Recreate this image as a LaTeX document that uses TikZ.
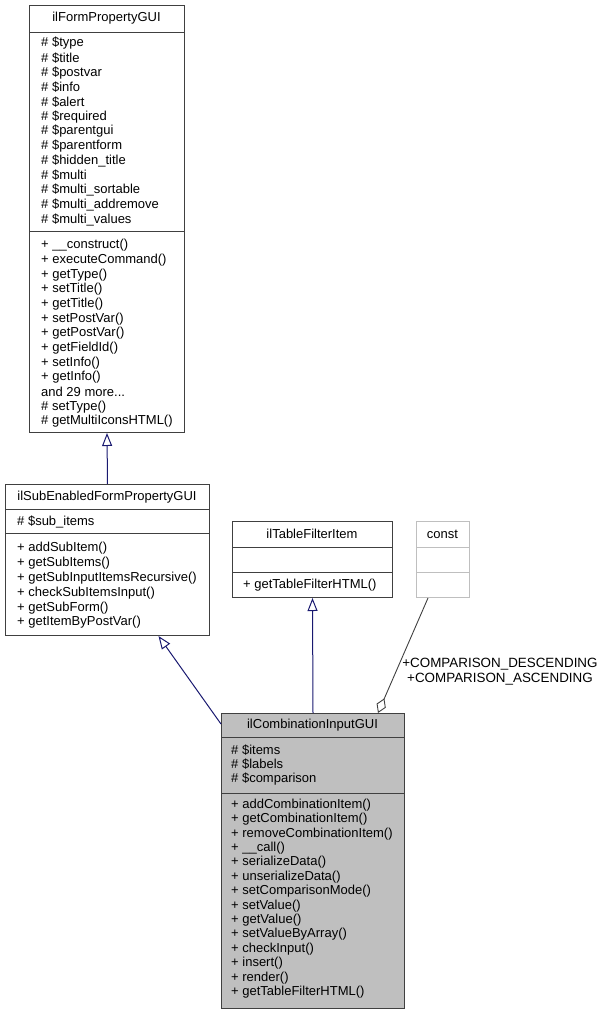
\documentclass[tikz,border=0pt]{standalone}
\usepackage{fontspec}
\setmainfont{Liberation Sans}
\usetikzlibrary{arrows.meta}
\definecolor{boxline}{RGB}{64,64,64}
\definecolor{edgeblue}{RGB}{25,25,112}
\definecolor{edgegray}{RGB}{64,64,64}
\definecolor{constgray}{RGB}{191,191,191}
\definecolor{fillgray}{RGB}{191,191,191}
\newcommand\dgfont{\fontsize{13}{15}\selectfont}
\begin{document}
\begin{tikzpicture}[x=1pt,y=-1pt,
  box/.style={draw=boxline, line width=1pt, inner sep=0pt, anchor=north west},
  txt/.style={anchor=west, inner sep=0pt, font=\dgfont},
  ttl/.style={anchor=center, inner sep=0pt, font=\dgfont},
  sep/.style={draw=boxline, line width=1pt},
  inh/.style={draw=edgeblue, line width=1pt, -{Triangle[open,length=13pt,width=10pt]}},
  agg/.style={draw=edgegray, line width=0.9pt, -{Diamond[open,length=16pt,width=10pt]}}]
\useasboundingbox (0,0) rectangle (605,1015);

% ilFormPropertyGUI
\node[box, minimum width=155pt, minimum height=427pt] (form) at (29,5) {};
\node[ttl] (formt) at (106.5,18) {ilFormPropertyGUI};
\draw[sep] (29,32) -- (184,32);
\draw[sep] (29,231) -- (184,231);
\foreach \t [count=\i from 0] in {\# \$type,\# \$title,\# \$postvar,\# \$info,\# \$alert,\# \$required,\# \$parentgui,\# \$parentform,\# \$hidden\_title,\# \$multi,\# \$multi\_sortable,\# \$multi\_addremove,\# \$multi\_values}
  \node[txt] (forma\i) at (41,43.5+\i*14.67) {\t};
\foreach \t [count=\i from 0] in {+ \_\_construct(),+ executeCommand(),+ getType(),+ setTitle(),+ getTitle(),+ setPostVar(),+ getPostVar(),+ getFieldId(),+ setInfo(),+ getInfo()}
  \node[txt] (formm\i) at (41,245.5+\i*14.67) {\t};
\node[txt] (formm10) at (41,245.5+10*14.67) {and 29 more...};
\node[txt] (formm11) at (41,245.5+11*14.67) {\# setType()};
\node[txt] (formm12) at (41,245.5+12*14.67) {\# getMultiIconsHTML()};

% ilSubEnabledFormPropertyGUI
\node[box, minimum width=204pt, minimum height=151pt] (sub) at (5,484) {};
\node[ttl] (subt) at (107,497) {ilSubEnabledFormPropertyGUI};
\draw[sep] (5,509) -- (209,509);
\draw[sep] (5,533) -- (209,533);
\node[txt] (suba0) at (17,521.5) {\# \$sub\_items};
\foreach \t [count=\i from 0] in {+ addSubItem(),+ getSubItems(),+ getSubInputItemsRecursive(),+ checkSubItemsInput(),+ getSubForm(),+ getItemByPostVar()}
  \node[txt] (subm\i) at (17,548.5+\i*14.8) {\t};

% ilTableFilterItem
\node[box, minimum width=160pt, minimum height=76pt] (tab) at (232,521) {};
\node[ttl] (tabt) at (312,534) {ilTableFilterItem};
\draw[sep] (232,547) -- (392,547);
\draw[sep] (232,572) -- (392,572);
\node[txt] (tabm0) at (243,585) {+ getTableFilterHTML()};

% const
\node[box, draw=constgray, minimum width=53pt, minimum height=76pt] (const) at (416,521) {};
\node[ttl] (constt) at (442.5,534) {const};
\draw[draw=constgray, line width=1pt] (416,547) -- (469,547);
\draw[draw=constgray, line width=1pt] (416,572) -- (469,572);

% ilCombinationInputGUI
\node[box, fill=fillgray, minimum width=183pt, minimum height=295pt] (comb) at (221,713) {};
\node[ttl] (combt) at (312.5,725) {ilCombinationInputGUI};
\draw[sep] (221,737) -- (404,737);
\draw[sep] (221,793) -- (404,793);
\foreach \t [count=\i from 0] in {\# \$items,\# \$labels,\# \$comparison}
  \node[txt] (comba\i) at (231,750+\i*14.5) {\t};
\foreach \t [count=\i from 0] in {+ addCombinationItem(),+ getCombinationItem(),+ removeCombinationItem(),+ \_\_call(),+ serializeData(),+ unserializeData(),+ setComparisonMode(),+ setValue(),+ getValue(),+ setValueByArray(),+ checkInput(),+ insert(),+ render(),+ getTableFilterHTML()}
  \node[txt] (combm\i) at (231,805+\i*14.4) {\t};

% connectors
\draw[inh] (sub.north) -- (form.south);
\draw[inh] ([yshift=-11pt]comb.north west) -- ([xshift=51pt]sub.south);
\draw[inh] (comb.north) -- (tab.south);
\draw[agg] ([xshift=-15pt]const.south) -- ([xshift=-27pt]comb.north east);
\node[ttl, align=center, font=\fontsize{13.4}{15}\selectfont] (lbl) at (500,672) {+COMPARISON\_DESCENDING\\+COMPARISON\_ASCENDING};
\end{tikzpicture}
\end{document}
